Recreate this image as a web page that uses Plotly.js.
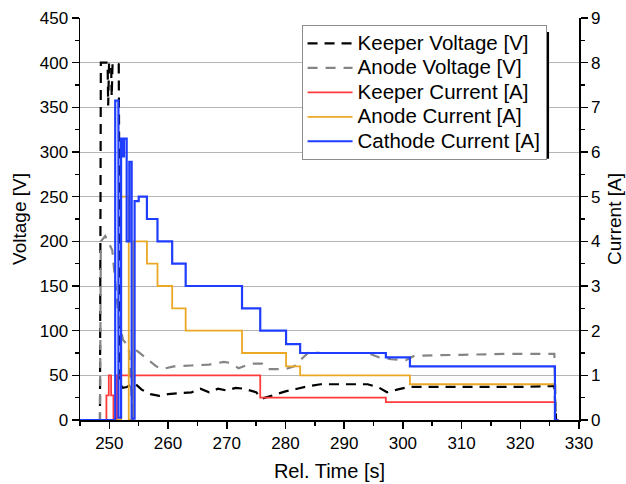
<!DOCTYPE html>
<html>
<head>
<meta charset="utf-8">
<script src="https://cdn.plot.ly/plotly-3.0.1.min.js"></script>
<style>
  html, body { margin: 0; padding: 0; background: #fff; }
  #chart { width: 626px; height: 484px; }
</style>
</head>
<body>
<div id="chart"></div>
<script>
// ---- data ----
const seriesNames = ["Keeper Voltage [V]", "Anode Voltage [V]", "Keeper Current [A]", "Anode Current [A]", "Cathode Current [A]"];

const keeperV_t = [245, 248.4, 248.55, 249.7, 249.8, 249.95, 250.3, 250.4, 250.55, 251.6, 251.85, 252.3, 253.0, 254.0, 254.5, 255.5, 257.0, 258.5, 260.0, 262.0, 264.0, 265.5, 267.0, 268.5, 270.0, 271.5, 273.0, 275.0, 276.0, 278.0, 280.0, 282.0, 284.0, 286.0, 290.0, 294.0, 296.0, 297.3, 299.0, 301.0, 305.0, 310.0, 315.0, 320.0, 325.8, 326.1];
const keeperV   = [0, 0, 400, 400, 352, 400, 398, 362, 400, 398, 40, 36, 37, 41, 40, 34, 29, 27, 29, 30, 31, 35, 31, 35, 33, 36, 35, 31, 24, 28, 32, 35, 38, 40, 40, 40, 36, 31, 34, 37, 37, 37, 37, 37, 38, 0];

const anodeV_t = [245, 248.4, 248.55, 249.3, 250.5, 251.5, 252.3, 253.3, 253.8, 254.0, 254.25, 255.0, 256.5, 258.0, 259.0, 261.0, 264.0, 267.0, 269.5, 270.5, 272.0, 274.0, 276.0, 277.0, 280.0, 281.5, 283.0, 284.0, 286.0, 290.0, 294.0, 296.0, 298.0, 300.5, 302.0, 310.0, 318.0, 325.8, 326.1];
const anodeV   = [0, 0, 200, 206, 190, 120, 90, 82, 25, 0, 80, 76, 68, 60, 57, 60, 61, 62, 65, 64, 58, 63, 63, 57, 57, 60, 70, 76, 75, 75, 75, 70, 68, 67, 72, 73, 74, 74, 0];

// step series (value holds until next time)
const keeperI_t = [245, 249.5, 249.9, 250.3, 250.7, 251.3, 275.7, 297.1, 325.9, 326.5];
const keeperI   = [0, 0.55, 1.0, 0.55, 0.03, 1.0, 0.5, 0.4, 0, 0];

const anodeI_t = [245, 252.0, 253.3, 254.1, 256.4, 258.2, 260.7, 263.0, 272.6, 280.1, 282.5, 301.2, 325.9, 326.5];
const anodeI   = [0, 5.0, 0, 4.0, 3.5, 3.0, 2.5, 2.0, 1.5, 1.2, 1.0, 0.8, 0, 0];

const cathodeI_t = [245, 251.0, 251.55, 252.0, 252.3, 252.5, 252.95, 253.4, 253.8, 254.3, 255.0, 256.4, 258.2, 260.7, 263.0, 272.6, 275.7, 280.1, 282.5, 297.1, 301.2, 325.9, 326.5];
const cathodeI   = [0, 7.15, 0.05, 6.3, 5.9, 6.3, 4.0, 5.78, 0.03, 4.9, 5.0, 4.5, 4.0, 3.5, 3.0, 2.5, 2.0, 1.7, 1.5, 1.4, 1.2, 0, 0];

const xTicks = [250, 260, 270, 280, 290, 300, 310, 320, 330];

// ---- chart ----
const FONT = "Liberation Sans, Arial, sans-serif";
const legendName = s => '<span style="font-size:20.5px">' + s + '</span>';

const traces = [
  {x: keeperV_t, y: keeperV, name: legendName(seriesNames[0]), yaxis: "y", mode: "lines",
   line: {color: "#000000", width: 2.2, dash: "10px,7px"}},
  {x: anodeV_t, y: anodeV, name: legendName(seriesNames[1]), yaxis: "y", mode: "lines",
   line: {color: "#858585", width: 2.2, dash: "10px,8px"}},
  {x: keeperI_t, y: keeperI, name: legendName(seriesNames[2]), yaxis: "y2", mode: "lines",
   line: {color: "#ff3b3b", width: 1.8, shape: "hv"}},
  {x: anodeI_t, y: anodeI, name: legendName(seriesNames[3]), yaxis: "y2", mode: "lines",
   line: {color: "#eba825", width: 1.8, shape: "hv"}},
  {x: cathodeI_t, y: cathodeI, name: legendName(seriesNames[4]), yaxis: "y2", mode: "lines",
   line: {color: "#1f3dff", width: 2.2, shape: "hv"}}
];

const axisCommon = {
  showline: true, linecolor: "#000", linewidth: 1.5,
  ticks: "outside", ticklen: 7, tickwidth: 1.5, tickcolor: "#000",
  tickfont: {family: FONT, size: 17, color: "#000"},
  zeroline: false
};

const layout = {
  width: 626, height: 484,
  margin: {l: 80, r: 47, t: 18, b: 64, pad: 0},
  paper_bgcolor: "#fff", plot_bgcolor: "#fff",
  font: {family: FONT, color: "#000"},
  showlegend: true,
  legend: {
    x: 0.444, y: 0.982, xanchor: "left", yanchor: "top",
    bgcolor: "#fff", bordercolor: "#8c8c8c", borderwidth: 1,
    font: {family: FONT, size: 16.5, color: "#000"},
    itemwidth: 45, tracegroupgap: 0
  },
  xaxis: Object.assign({}, axisCommon, {
    range: [245, 330], tickvals: xTicks, showgrid: false,
    minor: {dtick: 5, tick0: 0, ticks: "outside", ticklen: 4, tickwidth: 1.5, tickcolor: "#000", showgrid: false},
    title: {text: "Rel. Time [s]", font: {family: FONT, size: 20, color: "#000"}, standoff: 12}
  }),
  yaxis: Object.assign({}, axisCommon, {
    range: [0, 450], dtick: 50, tick0: 0,
    showgrid: true, gridcolor: "#b4b4b4", gridwidth: 1,
    minor: {dtick: 25, tick0: 0, ticks: "outside", ticklen: 4, tickwidth: 1.5, tickcolor: "#000", showgrid: false},
    title: {text: "Voltage [V]", font: {family: FONT, size: 19, color: "#000"}, standoff: 8}
  }),
  yaxis2: Object.assign({}, axisCommon, {
    range: [0, 9], dtick: 1, tick0: 0, overlaying: "y", side: "right",
    showgrid: false,
    minor: {dtick: 0.5, tick0: 0, ticks: "outside", ticklen: 4, tickwidth: 1.5, tickcolor: "#000", showgrid: false},
    title: {text: "Current [A]", font: {family: FONT, size: 19, color: "#000"}, standoff: 8}
  }),
  shapes: [
    {type: "rect", xref: "paper", yref: "paper", layer: "above",
     x0: 0.458, x1: 0.940, y0: 0.650, y1: 0.965,
     fillcolor: "#000", line: {width: 0}}
  ]
};

Plotly.newPlot("chart", traces, layout, {displayModeBar: false, staticPlot: true});
</script>
</body>
</html>
